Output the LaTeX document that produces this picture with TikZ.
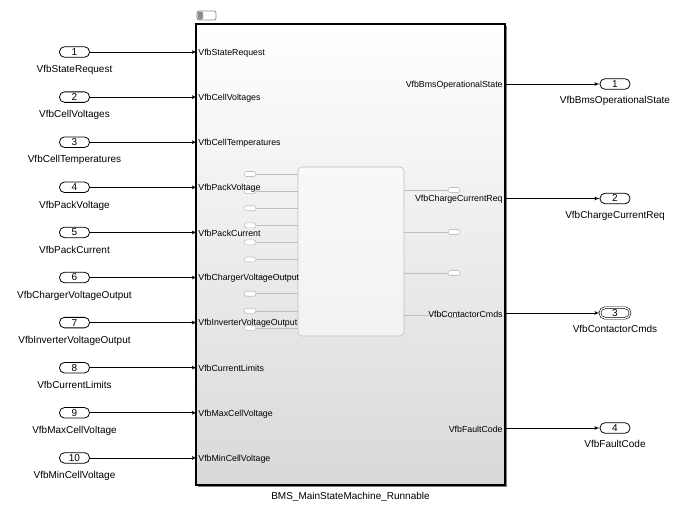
\documentclass[tikz,border=0pt]{standalone}
\usepackage{fontspec}
\setmainfont{Liberation Sans}
\usetikzlibrary{arrows,positioning,shadows}

\begin{document}
\begin{tikzpicture}[x=1pt,y=-1pt,->,>=latex',line width=0.8pt]
  \tikzstyle{every node}=[font=\fontsize{10}{12}\selectfont,inner sep=1pt]
  \tikzstyle{inport}=[draw,-,fill=white,rounded corners=5pt,minimum width=30pt,minimum height=10.5pt,inner sep=0pt]
  \tikzstyle{outdbl}=[inport,double,double distance=1.2pt,line width=0.6pt]
  \tikzstyle{portlbl}=[font=\fontsize{8.8}{10}\selectfont,yshift=-1pt]
  \tikzstyle{ghost}=[-,draw=black!25,line width=0.6pt]
\useasboundingbox (0,0) rectangle (686,514);

% subsystem
\node [draw,-,line width=1.6pt,top color=white,bottom color=black!15,
       drop shadow={shadow xshift=1.5pt,shadow yshift=-1.5pt,fill=black!50,opacity=1},
       minimum width=309pt,minimum height=461pt,inner sep=0pt] (bms) at (350.5,254.5) {};
\node [below=5pt of bms] (bmsname) {BMS\_MainStateMachine\_Runnable};
\draw [-,black!45,fill=white,rounded corners=2pt] (197,11) rectangle (216,20);
\fill [black!45,rounded corners=1.5pt] (197.5,11.5) rectangle (203,19.5);

% faint content preview
\draw [ghost,fill=white,fill opacity=0.5,rounded corners=4pt] (298,167) rectangle (404,336);
\foreach \k in {0,...,9} {
  \draw [ghost] (256,174+17.1*\k) -- (298,174+17.1*\k);
  \draw [ghost,fill=white,rounded corners=2.5pt] (244,171.5+17.1*\k) rectangle (256,176.5+17.1*\k);
}
\foreach \y in {190,232,273,315} {
  \draw [ghost] (404,\y) -- (448,\y);
  \draw [ghost,fill=white,rounded corners=2.5pt] (448,\y-2.5) rectangle (460,\y+2.5);
}

% inports
\foreach \n/\y/\t in {1/52/VfbStateRequest,2/97.1/VfbCellVoltages,3/142.2/VfbCellTemperatures,
    4/187.3/VfbPackVoltage,5/232.4/VfbPackCurrent,6/277.5/VfbChargerVoltageOutput,
    7/322.6/VfbInverterVoltageOutput,8/367.7/VfbCurrentLimits,9/412.8/VfbMaxCellVoltage,
    10/457.9/VfbMinCellVoltage} {
  \node [inport] (i\n) at (74.5,\y) {\n};
  \node [below=6.5pt of i\n] (ni\n) {\t};
  \node [portlbl,anchor=west] (l\n) at (197,\y) {\t};
  \draw (i\n) -- (l\n.west |- i\n);
}

% outports
\foreach \n/\y/\t/\s in {1/84/VfbBmsOperationalState/inport,2/198.5/VfbChargeCurrentReq/inport,
    3/313/VfbContactorCmds/outdbl,4/428/VfbFaultCode/inport} {
  \node [portlbl,anchor=east] (r\n) at (504,\y) {\t};
  \node [\s] (o\n) at (615,\y) {\n};
  \node [below=5.5pt of o\n] (no\n) {\t};
  \draw (r\n.east |- o\n) -- (o\n);
}
\end{tikzpicture}
\end{document}
